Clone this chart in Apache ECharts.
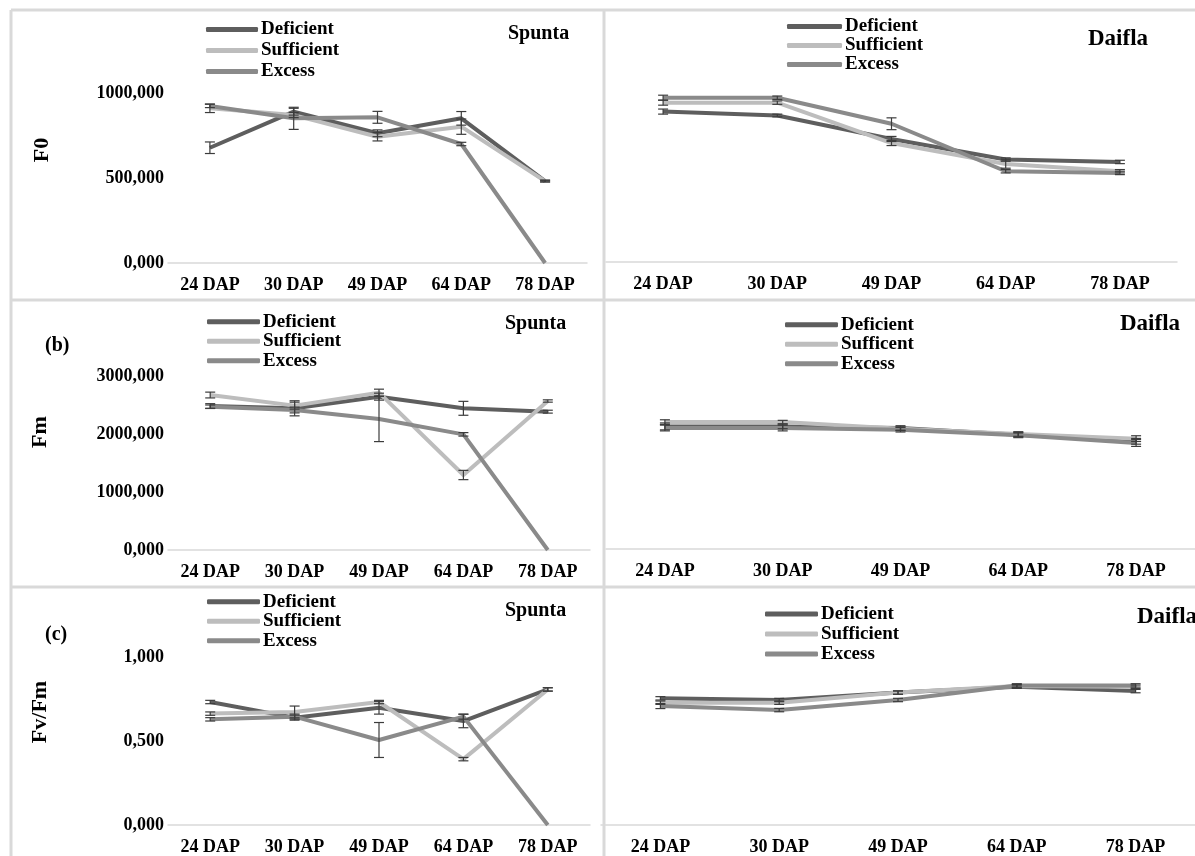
<!DOCTYPE html>
<html>
<head>
<meta charset="utf-8">
<script src="https://cdn.jsdelivr.net/npm/echarts/dist/echarts.min.js"></script>
<style>
  html, body { margin: 0; padding: 0; background: #fff; }
  #chart { width: 1195px; height: 856px; }
</style>
</head>
<body>
<div id="chart"></div>
<script>
// Sampling dates (days after planting)
const categories = ['24 DAP', '30 DAP', '49 DAP', '64 DAP', '78 DAP'];

// (a) F0 — Spunta
const f0SpuntaDeficient  = [678, 890, 763, 851, 482];
const f0SpuntaSufficient = [910, 870, 743, 802, 482];
const f0SpuntaExcess     = [924, 851, 857, 700, 0];
const f0SpuntaDeficientErr  = [34, 20, 20, 40, 5];
const f0SpuntaSufficientErr = [25, 15, 25, 45, 5];
const f0SpuntaExcessErr     = [10, 65, 35, 10, 0];

// (a) F0 — Daifla
const f0DaiflaDeficient  = [890, 867, 728, 606, 592];
const f0DaiflaSufficient = [943, 943, 704, 580, 537];
const f0DaiflaExcess     = [972, 972, 818, 537, 527];
const f0DaiflaDeficientErr  = [15, 8, 15, 10, 10];
const f0DaiflaSufficientErr = [15, 10, 15, 25, 10];
const f0DaiflaExcessErr     = [15, 10, 35, 10, 10];

// (b) Fm — Spunta
const fmSpuntaDeficient  = [2483, 2443, 2644, 2443, 2385];
const fmSpuntaSufficient = [2672, 2489, 2713, 1293, 2569];
const fmSpuntaExcess     = [2470, 2414, 2259, 1994, 0];
const fmSpuntaDeficientErr  = [40, 130, 60, 120, 25];
const fmSpuntaSufficientErr = [50, 60, 60, 80, 20];
const fmSpuntaExcessErr     = [30, 50, 390, 30, 0];

// (b) Fm — Daifla
const fmDaiflaDeficient  = [2126, 2126, 2098, 1983, 1868];
const fmDaiflaSufficient = [2201, 2201, 2086, 1994, 1914];
const fmDaiflaExcess     = [2098, 2098, 2069, 1971, 1839];
const fmDaiflaDeficientErr  = [60, 40, 40, 40, 50];
const fmDaiflaSufficientErr = [40, 30, 30, 40, 50];
const fmDaiflaExcessErr     = [50, 50, 40, 40, 60];

// (c) Fv/Fm — Spunta
const fvfmSpuntaDeficient  = [0.732, 0.639, 0.698, 0.619, 0.807];
const fvfmSpuntaSufficient = [0.663, 0.673, 0.732, 0.392, 0.807];
const fvfmSpuntaExcess     = [0.629, 0.645, 0.506, 0.645, 0];
const fvfmSpuntaDeficientErr  = [0.01, 0.015, 0.038, 0.04, 0.01];
const fvfmSpuntaSufficientErr = [0.01, 0.035, 0.01, 0.01, 0.01];
const fvfmSpuntaExcessErr     = [0.01, 0.015, 0.104, 0.015, 0];

// (c) Fv/Fm — Daifla
const fvfmDaiflaDeficient  = [0.754, 0.744, 0.788, 0.823, 0.797];
const fvfmDaiflaSufficient = [0.728, 0.728, 0.788, 0.827, 0.823];
const fvfmDaiflaExcess     = [0.708, 0.684, 0.744, 0.831, 0.831];
const fvfmDaiflaDeficientErr  = [0.01, 0.01, 0.01, 0.01, 0.01];
const fvfmDaiflaSufficientErr = [0.01, 0.01, 0.01, 0.01, 0.01];
const fvfmDaiflaExcessErr     = [0.015, 0.01, 0.01, 0.01, 0.01];

// Y-axis scales and tick labels per row
const f0Axis   = { min: 0, max: 1000, interval: 500 };
const fmAxis   = { min: 0, max: 3000, interval: 1000 };
const fvfmAxis = { min: 0, max: 1, interval: 0.5 };

const FONT = "'Liberation Serif', 'Times New Roman', serif";
const COLORS = { Deficient: '#5e5e5e', Sufficient: '#bdbdbd', Excess: '#8a8a8a' };
const BORDER = '#d9d9d9';

const chart = echarts.init(document.getElementById('chart'), null, { renderer: 'canvas' });

const fmt = v => v.toFixed(3).replace('.', ',');

// Panel layout: grid box, legend box, y-axis flag and series sets
const panels = [
  { grid: { left: 168, top: 93, width: 419, height: 170 }, axis: f0Axis, showY: true,
    legend: { left: 206, top: 19, lh: 21, w: 52 },
    names: ['Deficient', 'Sufficient', 'Excess'],
    values: [f0SpuntaDeficient, f0SpuntaSufficient, f0SpuntaExcess],
    errors: [f0SpuntaDeficientErr, f0SpuntaSufficientErr, f0SpuntaExcessErr] },
  { grid: { left: 606, top: 93, width: 571, height: 169 }, axis: f0Axis, showY: false,
    legend: { left: 787, top: 17, lh: 18.5, w: 55 },
    names: ['Deficient', 'Sufficient', 'Excess'],
    values: [f0DaiflaDeficient, f0DaiflaSufficient, f0DaiflaExcess],
    errors: [f0DaiflaDeficientErr, f0DaiflaSufficientErr, f0DaiflaExcessErr] },
  { grid: { left: 168, top: 376, width: 422, height: 174 }, axis: fmAxis, showY: true,
    legend: { left: 207, top: 312, lh: 19.5, w: 53 },
    names: ['Deficient', 'Sufficient', 'Excess'],
    values: [fmSpuntaDeficient, fmSpuntaSufficient, fmSpuntaExcess],
    errors: [fmSpuntaDeficientErr, fmSpuntaSufficientErr, fmSpuntaExcessErr] },
  { grid: { left: 606, top: 376, width: 595, height: 173 }, axis: fmAxis, showY: false,
    legend: { left: 785, top: 315, lh: 19.5, w: 53 },
    names: ['Deficient', 'Sufficent', 'Excess'],
    values: [fmDaiflaDeficient, fmDaiflaSufficient, fmDaiflaExcess],
    errors: [fmDaiflaDeficientErr, fmDaiflaSufficientErr, fmDaiflaExcessErr] },
  { grid: { left: 168, top: 657, width: 422, height: 169 }, axis: fvfmAxis, showY: true,
    legend: { left: 207, top: 592, lh: 19.5, w: 53 },
    names: ['Deficient', 'Sufficient', 'Excess'],
    values: [fvfmSpuntaDeficient, fvfmSpuntaSufficient, fvfmSpuntaExcess],
    errors: [fvfmSpuntaDeficientErr, fvfmSpuntaSufficientErr, fvfmSpuntaExcessErr] },
  { grid: { left: 601, top: 657, width: 600, height: 170 }, axis: fvfmAxis, showY: false,
    legend: { left: 765, top: 604, lh: 20, w: 53 },
    names: ['Deficient', 'Sufficient', 'Excess'],
    values: [fvfmDaiflaDeficient, fvfmDaiflaSufficient, fvfmDaiflaExcess],
    errors: [fvfmDaiflaDeficientErr, fvfmDaiflaSufficientErr, fvfmDaiflaExcessErr] }
];

const colorOf = name => name === 'Sufficent' ? COLORS.Sufficient : COLORS[name];

// Vertical error bar with caps
function renderErrorBar(params, api) {
  const idx = api.value(0), v = api.value(1), e = api.value(2);
  if (!e) return null;
  const hi = api.coord([idx, v + e]);
  const lo = api.coord([idx, v - e]);
  const cap = 5;
  const style = { stroke: '#3c3c3c', lineWidth: 1.2 };
  return {
    type: 'group',
    children: [
      { type: 'line', shape: { x1: hi[0], y1: hi[1], x2: lo[0], y2: lo[1] }, style },
      { type: 'line', shape: { x1: hi[0] - cap, y1: hi[1], x2: hi[0] + cap, y2: hi[1] }, style },
      { type: 'line', shape: { x1: lo[0] - cap, y1: lo[1], x2: lo[0] + cap, y2: lo[1] }, style }
    ]
  };
}

const grids = [], xAxes = [], yAxes = [], series = [], legends = [];

panels.forEach((p, gi) => {
  grids.push(Object.assign({ containLabel: false }, p.grid));
  xAxes.push({
    type: 'category', gridIndex: gi, data: categories, boundaryGap: true,
    axisLine: { show: true, lineStyle: { color: BORDER, width: 1.5 } },
    axisTick: { show: false },
    axisLabel: { interval: 0, margin: 13, color: '#000', fontFamily: FONT, fontWeight: 'bold', fontSize: 18 }
  });
  yAxes.push({
    type: 'value', gridIndex: gi, show: p.showY,
    min: p.axis.min, max: p.axis.max, interval: p.axis.interval,
    axisLine: { show: false }, axisTick: { show: false }, splitLine: { show: false },
    axisLabel: { margin: 4, color: '#000', fontFamily: FONT, fontWeight: 'bold', fontSize: 18, formatter: fmt }
  });
  p.names.forEach((name, si) => {
    series.push({
      type: 'line', name, xAxisIndex: gi, yAxisIndex: gi,
      data: p.values[si], showSymbol: false, symbol: 'none',
      lineStyle: { color: colorOf(name), width: 4, join: 'round' },
      itemStyle: { color: colorOf(name) },
      z: 2 + si, clip: false, animation: false
    });
  });
  p.names.forEach((name, si) => {
    series.push({
      type: 'custom', name: name + ' SE', xAxisIndex: gi, yAxisIndex: gi,
      data: p.values[si].map((v, i) => [i, v, p.errors[si][i]]),
      encode: { x: 0, y: 1 },
      renderItem: renderErrorBar, z: 10, silent: true, animation: false
    });
  });
  legends.push({
    orient: 'vertical', left: p.legend.left, top: p.legend.top,
    data: p.names.map(n => ({ name: n, icon: 'roundRect', itemStyle: { color: colorOf(n) } })),
    itemWidth: p.legend.w, itemHeight: 5, itemGap: 0, padding: 0,
    selectedMode: false,
    textStyle: { color: '#000', fontFamily: FONT, fontWeight: 'bold', fontSize: 19,
                 lineHeight: p.legend.lh, height: p.legend.lh, padding: [0, 0, 0, -2] }
  });
});

// Cultivar names and panel letters
const spuntaStyle = { color: '#000', fontFamily: FONT, fontWeight: 'bold', fontSize: 20 };
const daiflaStyle = { color: '#000', fontFamily: FONT, fontWeight: 'bold', fontSize: 23 };
const titles = [
  { text: 'Spunta', left: 508, top: 24, textStyle: spuntaStyle },
  { text: 'Daifla', left: 1088, top: 28, textStyle: daiflaStyle },
  { text: '(b)', left: 45, top: 336, textStyle: spuntaStyle },
  { text: 'Spunta', left: 505, top: 314, textStyle: spuntaStyle },
  { text: 'Daifla', left: 1120, top: 313, textStyle: daiflaStyle },
  { text: '(c)', left: 45, top: 625, textStyle: spuntaStyle },
  { text: 'Spunta', left: 505, top: 601, textStyle: spuntaStyle },
  { text: 'Daifla', left: 1137, top: 606, textStyle: daiflaStyle }
].map(t => Object.assign({ padding: 0 }, t));

// Rotated y-axis names
const axisNames = [
  { text: 'F0', x: 42, y: 150 },
  { text: 'Fm', x: 40, y: 432 },
  { text: 'Fv/Fm', x: 40, y: 712 }
];

const graphics = [];
// Panel frame lines
const frameLines = [
  [11, 10, 1195, 10],
  [11, 10, 11, 856],
  [604, 10, 604, 856],
  [11, 300, 1195, 300],
  [11, 587, 1195, 587]
];
frameLines.forEach(([x1, y1, x2, y2]) => {
  graphics.push({ type: 'line', silent: true, z: 0,
    shape: { x1, y1, x2, y2 }, style: { stroke: BORDER, lineWidth: 3 } });
});
axisNames.forEach(a => {
  graphics.push({ type: 'text', x: a.x, y: a.y, rotation: Math.PI / 2, silent: true,
    style: { text: a.text, fill: '#000', fontFamily: FONT, fontWeight: 'bold', fontSize: 22,
             align: 'center', verticalAlign: 'middle' } });
});

chart.setOption({
  animation: false,
  backgroundColor: '#fff',
  title: titles,
  legend: legends,
  grid: grids,
  xAxis: xAxes,
  yAxis: yAxes,
  series,
  graphic: graphics
});
</script>
</body>
</html>
